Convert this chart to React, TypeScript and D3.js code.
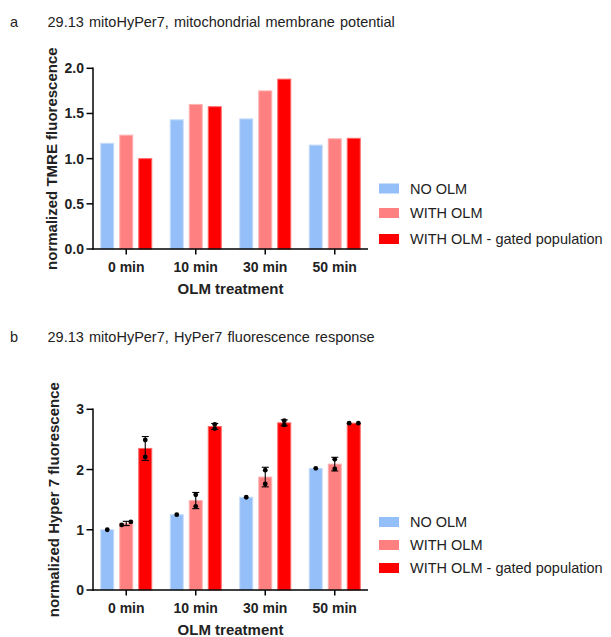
import React from "react";
import * as d3 from "d3";

const categories = ["0 min", "10 min", "30 min", "50 min"];
const seriesNames = ["NO OLM", "WITH OLM", "WITH OLM - gated population"];
const seriesColors = ["#94BFF8", "#FF8080", "#FF0000"];
const seriesStrokes = ["#C4DCFB", "#FFB3B3", "#FF6666"];

// Panel a: TMRE (single values)
const tmreNoOlm = [1.17, 1.43, 1.44, 1.15];
const tmreWithOlm = [1.26, 1.6, 1.75, 1.22];
const tmreGated = [1.0, 1.575, 1.88, 1.225];
const tmreTicks = [0, 0.5, 1.0, 1.5, 2.0];

// Panel b: HyPer7 replicates
const hyperNoOlm = [[1.0], [1.25], [1.54], [2.02]];
const hyperWithOlm = [[1.08, 1.13], [1.58, 1.39], [1.99, 1.76], [2.17, 2.01]];
const hyperGated = [[2.49, 2.21], [2.75, 2.68], [2.81, 2.74], [2.77, 2.77]];
const hyperTicks = [0, 1, 2, 3];

const FONT = "'Liberation Sans', Arial, Helvetica, sans-serif";

type PanelProps = {
  letter: string;
  title: string;
  titleY: number;
  yLabel: string;
  yLabelX: number;
  yTop: number;
  yBottom: number;
  yMax: number;
  ticks: number[];
  tickFmt: (v: number) => string;
  series: number[][][];
  showPoints: boolean;
  legendYs: number[];
};

function Panel(p: PanelProps) {
  const x0 = 93;
  const x1 = 368;
  const outer = d3.scaleBand<string>().domain(categories).range([x0 - 1.5, x1 + 1.5]).padding(0);
  const inner = d3
    .scaleBand<string>()
    .domain(seriesNames)
    .range([-28.5, 28.5])
    .paddingInner(0.316)
    .paddingOuter(0.158);
  const y = d3.scaleLinear().domain([0, p.yMax]).range([p.yBottom, p.yTop]);
  const bw = inner.bandwidth();

  return (
    <g>
      <text x={10} y={p.titleY} fontSize={14.5} fontFamily={FONT} fill="#222">
        {p.letter}
      </text>
      <text x={47.5} y={p.titleY} fontSize={14.5} fontFamily={FONT} fill="#222" wordSpacing={1.2}>
        {p.title}
      </text>
      {/* bars */}
      {categories.map((c, ci) =>
        seriesNames.map((s, si) => {
          const vals = p.series[si][ci];
          const m = d3.mean(vals) as number;
          const cx = (outer(c) as number) + outer.bandwidth() / 2 + (inner(s) as number);
          return (
            <rect
              key={c + s}
              x={cx}
              y={y(m)}
              width={bw}
              height={p.yBottom - y(m)}
              fill={seriesColors[si]}
              stroke={seriesStrokes[si]}
              strokeWidth={1}
            />
          );
        })
      )}
      {/* error bars and points */}
      {p.showPoints &&
        categories.map((c, ci) =>
          seriesNames.map((s, si) => {
            const vals = p.series[si][ci];
            const m = d3.mean(vals) as number;
            const cx = (outer(c) as number) + outer.bandwidth() / 2 + (inner(s) as number) + bw / 2;
            const sd = vals.length > 1 ? (d3.deviation(vals) as number) : 0;
            const spread =
              vals.length === 2 && Math.abs(y(vals[0]) - y(vals[1])) < 3.5;
            return (
              <g key={"e" + c + s}>
                {sd > 0 && (
                  <g stroke="#000" strokeWidth={1.1}>
                    <line x1={cx} x2={cx} y1={y(m + sd)} y2={y(m - sd)} />
                    <line x1={cx - 3.5} x2={cx + 3.5} y1={y(m + sd)} y2={y(m + sd)} />
                    <line x1={cx - 3.5} x2={cx + 3.5} y1={y(m - sd)} y2={y(m - sd)} />
                  </g>
                )}
                {vals.map((v, vi) => (
                  <circle
                    key={vi}
                    cx={spread ? cx + (vi === 0 ? -4.6 : 4.6) : cx}
                    cy={y(v)}
                    r={2.4}
                    fill="#000"
                  />
                ))}
              </g>
            );
          })
        )}
      {/* y axis */}
      <line x1={x0} x2={x0} y1={p.yTop - 0.75} y2={p.yBottom + 0.75} stroke="#000" strokeWidth={1.5} />
      {p.ticks.map((t) => (
        <g key={t}>
          <line x1={x0 - 6.5} x2={x0} y1={y(t)} y2={y(t)} stroke="#000" strokeWidth={1.5} />
          <text
            x={x0 - 9}
            y={y(t) + 5}
            textAnchor="end"
            fontSize={14}
            fontWeight="bold"
            fontFamily={FONT}
            fill="#222"
          >
            {p.tickFmt(t)}
          </text>
        </g>
      ))}
      {/* x axis */}
      <line x1={x0} x2={x1} y1={p.yBottom} y2={p.yBottom} stroke="#000" strokeWidth={1.5} />
      {categories.map((c) => {
        const cx = (outer(c) as number) + outer.bandwidth() / 2;
        return (
          <g key={c}>
            <line x1={cx} x2={cx} y1={p.yBottom} y2={p.yBottom + 5.5} stroke="#000" strokeWidth={1.5} />
            <text
              x={cx}
              y={p.yBottom + 23}
              textAnchor="middle"
              fontSize={14}
              fontWeight="bold"
              fontFamily={FONT}
              fill="#222"
            >
              {c}
            </text>
          </g>
        );
      })}
      <text
        x={(x0 + x1) / 2}
        y={p.yBottom + 45}
        textAnchor="middle"
        fontSize={15}
        fontWeight="bold"
        fontFamily={FONT}
        fill="#222"
      >
        OLM treatment
      </text>
      <text
        transform={`translate(${p.yLabelX},${(p.yTop + p.yBottom) / 2}) rotate(-90)`}
        textAnchor="middle"
        fontSize={15}
        fontWeight="bold"
        fontFamily={FONT}
        fill="#222"
      >
        {p.yLabel}
      </text>
      {/* legend */}
      {seriesNames.map((s, si) => (
        <g key={"l" + s}>
          <rect x={379} y={p.legendYs[si] - 5} width={20} height={10} fill={seriesColors[si]} />
          <text x={410} y={p.legendYs[si] + 5} fontSize={14.5} fontFamily={FONT} fill="#222">
            {s}
          </text>
        </g>
      ))}
    </g>
  );
}

export default function App() {
  return (
    <svg
      width={611}
      height={637}
      style={{ position: "absolute", left: 0, top: 0, background: "#fff" }}
    >
      <rect width={611} height={637} fill="#fff" />
      <Panel
        letter="a"
        title="29.13 mitoHyPer7, mitochondrial membrane potential"
        titleY={26.5}
        yLabel="normalized TMRE fluorescence"
        yLabelX={57}
        yTop={68.3}
        yBottom={249}
        yMax={2}
        ticks={tmreTicks}
        tickFmt={(v) => d3.format(".1f")(v)}
        series={[tmreNoOlm.map((v) => [v]), tmreWithOlm.map((v) => [v]), tmreGated.map((v) => [v])]}
        showPoints={false}
        legendYs={[188.5, 213, 239]}
      />
      <Panel
        letter="b"
        title="29.13 mitoHyPer7, HyPer7 fluorescence response"
        titleY={342}
        yLabel="normalized Hyper 7 fluorescence"
        yLabelX={58.5}
        yTop={409.3}
        yBottom={590}
        yMax={3}
        ticks={hyperTicks}
        tickFmt={(v) => d3.format("d")(v)}
        series={[hyperNoOlm, hyperWithOlm, hyperGated]}
        showPoints={true}
        legendYs={[522, 545, 568]}
      />
    </svg>
  );
}
